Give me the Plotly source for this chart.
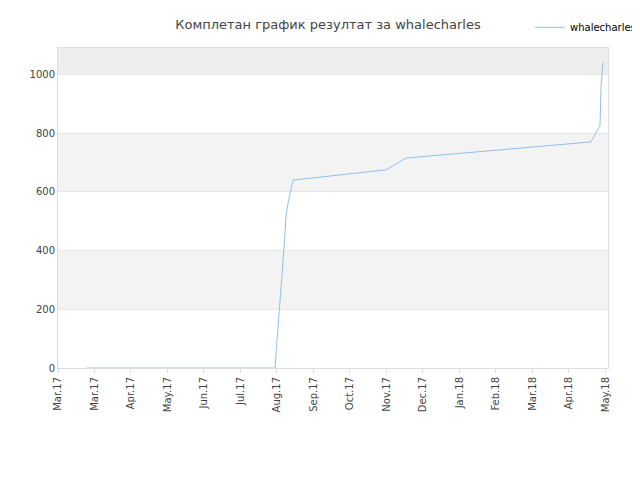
import plotly.graph_objects as go

# x in "month ticks" from the first axis label, y = cumulative score
months = [0.78, 5.95, 5.98, 6.05, 6.1, 6.12, 6.2, 6.25, 6.3, 6.44, 8.99, 9.53, 14.6, 14.85, 14.88, 14.93]
scores = [0, 0, 60, 170, 280, 300, 420, 520, 560, 640, 675, 715, 770, 825, 960, 1040]
tick_labels = ["Mar.17", "Mar.17", "Apr.17", "May.17", "Jun.17", "Jul.17", "Aug.17", "Sep.17",
               "Oct.17", "Nov.17", "Dec.17", "Jan.18", "Feb.18", "Mar.18", "Apr.18", "May.18"]

fig = go.Figure()
fig.add_trace(go.Scatter(x=months, y=scores, mode="lines", name="whalecharles",
                         line=dict(color="#90c0f0", width=1)))

for y0, y1, c in [(200, 400, "#f3f3f3"), (600, 800, "#f3f3f3"), (1000, 1090, "#eeeeee")]:
    fig.add_shape(type="rect", xref="paper", x0=0, x1=1, y0=y0, y1=y1,
                  fillcolor=c, line_width=0, layer="below")

fig.update_layout(
    width=640, height=480,
    margin=dict(l=50, r=40, t=40, b=120, autoexpand=False),
    title=dict(text="Комплетан график резултат за whalecharles", x=0.5, xanchor="center", y=0.975,
               font=dict(size=13, color="#444")),
    font=dict(family="DejaVu Sans", size=10, color="#444"),
    plot_bgcolor="white", paper_bgcolor="white",
    showlegend=True,
    legend=dict(x=1.06, y=1.11, xanchor="right", yanchor="top", font=dict(size=10, color="#000")),
    xaxis=dict(range=[0, 15.07], tickmode="array", tickvals=list(range(16)), ticktext=tick_labels,
               tickangle=-90, showgrid=False, showline=True, linecolor="#ddd", mirror=True,
               zeroline=False, ticks="outside", ticklen=4, tickcolor="#ddd", automargin=False),
    yaxis=dict(range=[0, 1090], tickvals=[0, 200, 400, 600, 800, 1000], gridcolor="#e6e6e6",
               showline=True, linecolor="#ddd", mirror=True, zeroline=False, automargin=False),
)
fig.write_html("out.html")
